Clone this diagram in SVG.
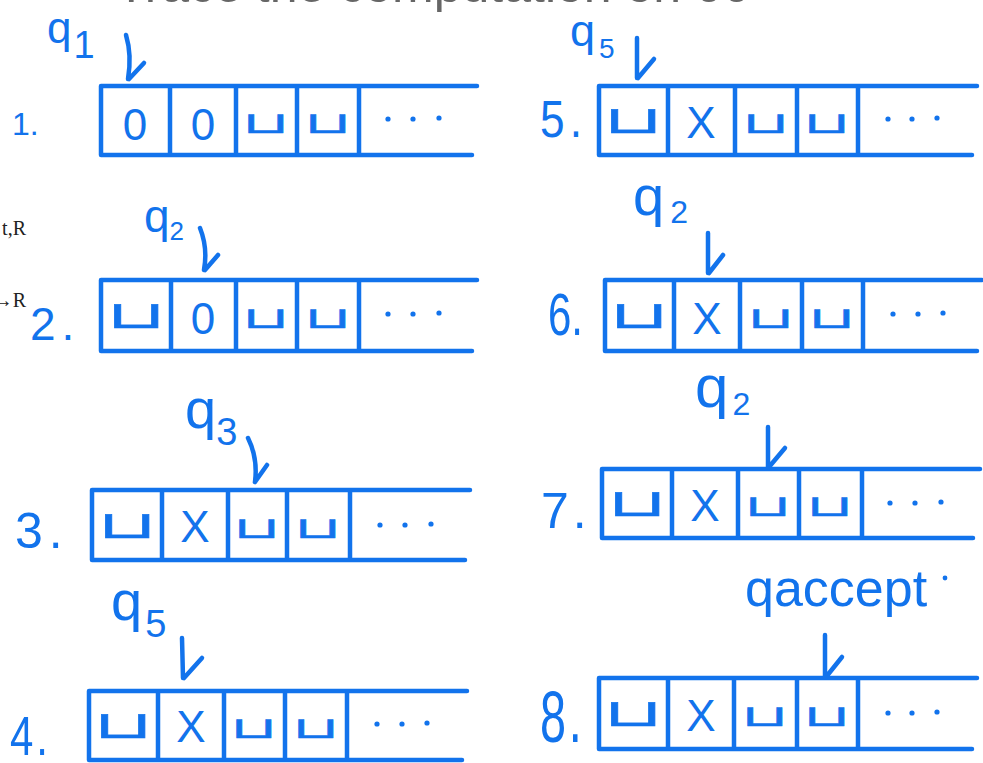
<svg xmlns="http://www.w3.org/2000/svg" width="983" height="763" viewBox="0 0 983 763">
<style>
.ln{stroke:#1273ec;stroke-width:4.5;stroke-linecap:round;stroke-linejoin:round;fill:none}
.hw{fill:#1273ec;font-family:"Liberation Sans","DejaVu Sans",sans-serif}
.sym{fill:#1273ec;font-family:"Liberation Sans",sans-serif;font-size:44px;text-anchor:middle}
.bl{fill:#1273ec;stroke:#1273ec;stroke-width:0.8;font-family:"DejaVu Sans",sans-serif;font-size:48px;text-anchor:middle}
.bb{fill:#1273ec;stroke:#1273ec;stroke-width:0.6;font-family:"DejaVu Sans",sans-serif;font-size:56px;text-anchor:middle}
.dt{fill:#1273ec}
.bk{fill:#222;font-family:"Liberation Serif",serif;font-size:20px;text-anchor:end}
</style>
<rect width="983" height="763" fill="#fff"/>
<text x="116" y="2" font-family="Liberation Sans,sans-serif" font-size="50" fill="#666">Trace the computation on 00</text>
<text class="bk" x="26" y="235">t,R</text>
<text class="bk" x="26" y="307">→R</text>

<g id="tape1">
<path class="ln" d="M101,86 H477 M101,155 H472 M101,86 V155 M170,86 V155 M236,86 V155 M297,86 V155 M359,86 V155"/>
<text class="sym" x="135" y="140">0</text><text class="sym" x="203" y="140">0</text>
<text class="bl" transform="translate(266,133) scale(1.25,0.62)">⊔</text><text class="bl" transform="translate(328,133) scale(1.25,0.62)">⊔</text>
<circle class="dt" cx="388" cy="119" r="2.6"/><circle class="dt" cx="413" cy="119" r="2.6"/><circle class="dt" cx="439" cy="118" r="2.6"/>
<text class="hw" x="12" y="135" font-size="32">1.</text>
<text class="hw" x="47" y="43" font-size="44">q<tspan font-size="38" dx="2" dy="15">1</tspan></text>
</g>

<g id="tape2">
<path class="ln" d="M101,280 H477 M101,351 H472 M101,280 V351 M171,280 V351 M236,280 V351 M297,280 V351 M359,280 V351"/>
<text class="bb" transform="translate(136,328) scale(1.35,0.68)">⊔</text><text class="sym" x="203" y="334">0</text>
<text class="bl" transform="translate(266,328) scale(1.25,0.62)">⊔</text><text class="bl" transform="translate(328,328) scale(1.25,0.62)">⊔</text>
<circle class="dt" cx="388" cy="314" r="2.6"/><circle class="dt" cx="413" cy="314" r="2.6"/><circle class="dt" cx="439" cy="313" r="2.6"/>
<text class="hw" x="30" y="340" font-size="46" letter-spacing="6">2.</text>
<text class="hw" x="144" y="232" font-size="46">q<tspan font-size="26" dy="8">2</tspan></text>
</g>

<g id="tape3">
<path class="ln" d="M92,490 H470 M92,560 H465 M92,490 V560 M162,490 V560 M228,490 V560 M287,490 V560 M350,490 V560"/>
<text class="bb" transform="translate(127,538) scale(1.35,0.68)">⊔</text><text class="sym" x="195" y="542">X</text>
<text class="bl" transform="translate(257,538) scale(1.25,0.62)">⊔</text><text class="bl" transform="translate(318,538) scale(1.25,0.62)">⊔</text>
<circle class="dt" cx="380" cy="525" r="2.6"/><circle class="dt" cx="405" cy="525" r="2.6"/><circle class="dt" cx="431" cy="524" r="2.6"/>
<text class="hw" x="15" y="548" font-size="50" letter-spacing="6">3.</text>
<text class="hw" x="185" y="428" font-size="56">q<tspan font-size="38" dy="17">3</tspan></text>
</g>

<g id="tape4">
<path class="ln" d="M89,691 H467 M89,760 H462 M89,691 V760 M158,691 V760 M224,691 V760 M285,691 V760 M347,691 V760"/>
<text class="bb" transform="translate(123,738) scale(1.35,0.68)">⊔</text><text class="sym" x="191" y="742">X</text>
<text class="bl" transform="translate(254,738) scale(1.25,0.62)">⊔</text><text class="bl" transform="translate(316,738) scale(1.25,0.62)">⊔</text>
<circle class="dt" cx="377" cy="724" r="2.6"/><circle class="dt" cx="402" cy="724" r="2.6"/><circle class="dt" cx="427" cy="723" r="2.6"/>
<text class="hw" transform="translate(10,755) scale(0.75,1)" font-size="56" letter-spacing="4">4.</text>
<text class="hw" x="111" y="620" font-size="56">q<tspan font-size="38" dx="3" dy="17">5</tspan></text>
</g>

<g id="tape5">
<path class="ln" d="M599,86 H977 M599,155 H972 M599,86 V155 M668,86 V155 M735,86 V155 M797,86 V155 M858,86 V155"/>
<text class="bb" transform="translate(633,133) scale(1.35,0.68)">⊔</text><text class="sym" x="701" y="138">X</text>
<text class="bl" transform="translate(766,133) scale(1.25,0.62)">⊔</text><text class="bl" transform="translate(827,133) scale(1.25,0.62)">⊔</text>
<circle class="dt" cx="888" cy="119" r="2.6"/><circle class="dt" cx="912" cy="119" r="2.6"/><circle class="dt" cx="937" cy="118" r="2.6"/>
<text class="hw" transform="translate(540,137) scale(0.85,1)" font-size="52" letter-spacing="6">5.</text>
<text class="hw" x="570" y="46" font-size="45">q<tspan font-size="28" dx="4" dy="12">5</tspan></text>
</g>

<g id="tape6">
<path class="ln" d="M605,280 H982 M605,351 H977 M605,280 V351 M674,280 V351 M740,280 V351 M802,280 V351 M863,280 V351"/>
<text class="bb" transform="translate(639,328) scale(1.35,0.68)">⊔</text><text class="sym" x="707" y="334">X</text>
<text class="bl" transform="translate(771,328) scale(1.25,0.62)">⊔</text><text class="bl" transform="translate(832,328) scale(1.25,0.62)">⊔</text>
<circle class="dt" cx="893" cy="314" r="2.6"/><circle class="dt" cx="918" cy="314" r="2.6"/><circle class="dt" cx="943" cy="313" r="2.6"/>
<text class="hw" transform="translate(548,335) scale(0.7,1)" font-size="60">6.</text>
<text class="hw" x="633" y="215" font-size="56">q<tspan font-size="32" dx="6" dy="8">2</tspan></text>
</g>

<g id="tape7">
<path class="ln" d="M602,469 H980 M602,538 H973 M602,469 V538 M672,469 V538 M738,469 V538 M799,469 V538 M862,469 V538"/>
<text class="bb" transform="translate(637,516) scale(1.35,0.68)">⊔</text><text class="sym" x="705" y="521">X</text>
<text class="bl" transform="translate(768,516) scale(1.25,0.62)">⊔</text><text class="bl" transform="translate(830,516) scale(1.25,0.62)">⊔</text>
<circle class="dt" cx="890" cy="503" r="2.6"/><circle class="dt" cx="915" cy="503" r="2.6"/><circle class="dt" cx="941" cy="502" r="2.6"/>
<text class="hw" x="541" y="528" font-size="50" letter-spacing="4">7.</text>
<text class="hw" x="695" y="407" font-size="60">q<tspan font-size="32" dx="4" dy="8">2</tspan></text>
</g>

<g id="tape8">
<path class="ln" d="M599,678 H977 M599,749 H972 M599,678 V749 M668,678 V749 M734,678 V749 M797,678 V749 M858,678 V749"/>
<text class="bb" transform="translate(633,726) scale(1.35,0.68)">⊔</text><text class="sym" x="701" y="731">X</text>
<text class="bl" transform="translate(765,726) scale(1.25,0.62)">⊔</text><text class="bl" transform="translate(827,726) scale(1.25,0.62)">⊔</text>
<circle class="dt" cx="888" cy="713" r="2.6"/><circle class="dt" cx="912" cy="713" r="2.6"/><circle class="dt" cx="937" cy="712" r="2.6"/>
<text class="hw" transform="translate(540,742) scale(0.65,1)" font-size="72" letter-spacing="4">8.</text>
<text class="hw" x="745" y="606" font-size="52">qaccept</text>
<circle class="dt" cx="945" cy="578" r="2.4"/>
</g>

<g id="connectors">
<path class="ln" d="M126,35 Q132,55 128,79 M144,63 L129,79"/>
<path class="ln" d="M200,228 Q208,248 204,270 M218,255 L205,270"/>
<path class="ln" d="M248,438 Q258,458 255,482 M267,465 L255,482"/>
<path class="ln" d="M182,638 L183,678 M202,658 L184,678"/>
<path class="ln" d="M637,38 L637,78 M654,59 L638,78"/>
<path class="ln" d="M708,233 L708,273 M723,255 L709,273"/>
<path class="ln" d="M768,427 L768,467 M785,448 L769,467"/>
<path class="ln" d="M825,635 L825,677 M842,657 L826,677"/>
</g>
</svg>
